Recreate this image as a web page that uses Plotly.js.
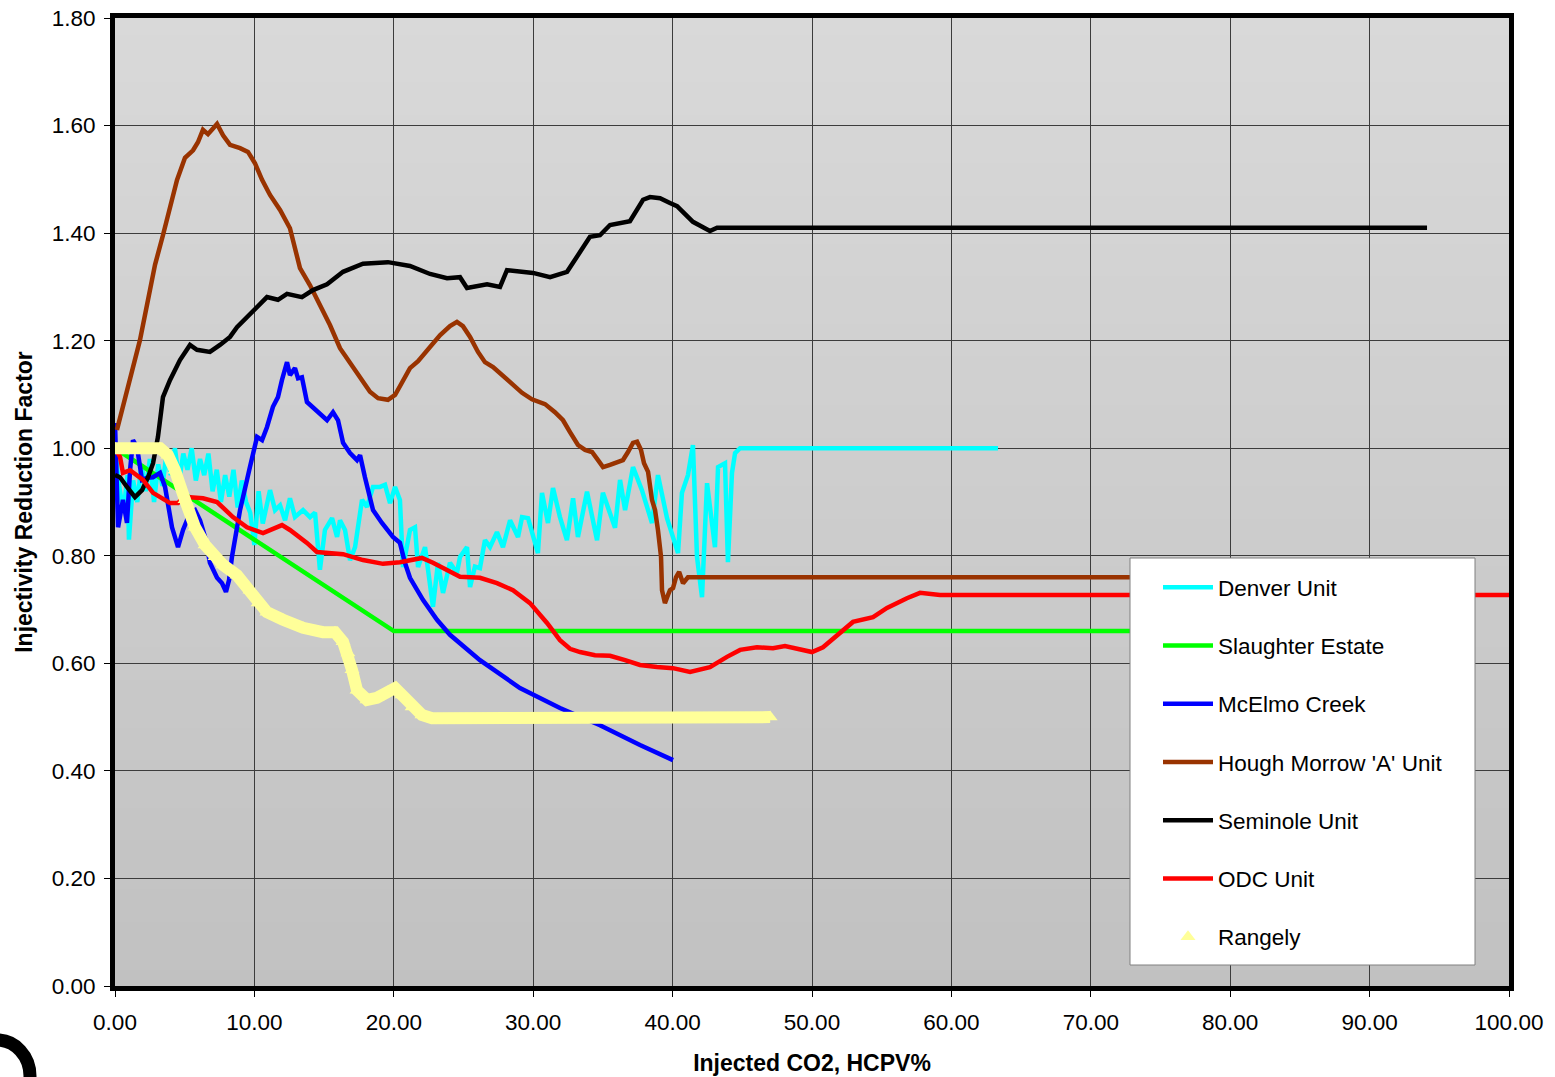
<!DOCTYPE html>
<html>
<head>
<meta charset="utf-8">
<script src="https://cdn.plot.ly/plotly-3.0.1.min.js"></script>
<style>
html,body{margin:0;padding:0;background:#ffffff;}
#chart{width:1555px;height:1077px;}
</style>
</head>
<body>
<div id="chart"></div>
<script>
// ---------- DATA ----------
const seriesNames = ["Denver Unit","Slaughter Estate","McElmo Creek","Hough Morrow 'A' Unit","Seminole Unit","ODC Unit","Rangely"];

const denverX = [0,0.3,0.6,0.9,1.0,1.3,1.6,1.9,2.2,2.5,2.8,3.1,3.4,3.7,4.0,4.3,4.6,4.9,5.2,5.5,5.8,6.1,6.4,6.7,7.0,7.3,7.6,7.9,8.2,8.5,8.8,9.1,9.4,9.7,10.0,10.3,10.6,10.9,
  11.12,11.48,11.84,12.2,12.55,12.91,13.49,13.99,14.35,14.7,15.06,15.57,15.93,16.14,16.5,16.86,17.22,17.72,18.08,18.51,19.01,19.37,19.73,20.09,20.44,20.66,21.16,21.52,21.74,22.24,22.81,23.17,23.53,24.03,24.53,
  24.75,25.25,25.47,25.82,26.18,26.54,26.9,27.4,27.83,28.34,28.91,29.2,29.63,30.34,30.63,31.06,31.42,31.92,32.42,32.86,33.21,33.86,34.58,35.0,35.87,36.23,36.59,37.16,37.8,38.52,38.95,39.6,40.39,40.67,41.1,41.46,41.75,42.11,42.47,43.04,43.26,43.76,43.97,44.26,44.48,44.84,63.34];
const denverY = [1.00,0.93,0.88,0.95,0.83,0.94,0.90,0.97,0.92,0.98,0.90,0.97,0.93,0.99,0.95,1.00,0.94,0.99,0.96,1.00,0.94,0.98,0.95,0.99,0.92,0.96,0.90,0.95,0.91,0.96,0.89,0.94,0.90,0.88,0.82,0.92,0.86,0.90,
  0.922,0.885,0.894,0.866,0.907,0.872,0.885,0.872,0.880,0.774,0.848,0.870,0.835,0.866,0.848,0.792,0.816,0.904,0.891,0.928,0.928,0.932,0.898,0.928,0.904,0.779,0.848,0.853,0.779,0.816,0.705,0.787,0.731,0.787,0.768,
  0.798,0.816,0.742,0.780,0.777,0.829,0.816,0.844,0.816,0.866,0.835,0.872,0.870,0.805,0.917,0.861,0.926,0.872,0.829,0.907,0.835,0.919,0.829,0.917,0.852,0.941,0.885,0.965,0.922,0.861,0.950,0.870,0.805,0.917,0.950,1.006,0.798,0.723,0.935,0.816,0.965,0.972,0.788,0.954,0.991,1.000,1.000];

const slaughterX = [0,20.0,75.0];
const slaughterY = [1.00,0.66,0.66];

const mcelmoX = [0,0.22,0.57,0.86,1.08,1.29,1.58,1.94,2.30,2.73,3.23,3.59,4.09,4.52,4.88,5.38,5.74,6.10,6.46,6.81,7.32,7.68,7.96,8.18,8.39,8.97,9.68,10.19,10.55,10.90,11.33,11.69,11.98,12.34,12.55,12.91,13.13,13.41,13.77,14.20,14.71,15.21,15.64,16.00,16.36,16.86,17.36,17.58,17.93,18.51,19.15,19.94,20.44,20.80,21.16,22.09,23.10,24.03,26.18,29.05,31.92,34.79,37.66,40.03];
const mcelmoY = [1.047,0.853,0.904,0.861,0.959,1.015,1.002,0.941,0.945,0.946,0.954,0.928,0.853,0.816,0.848,0.880,0.885,0.866,0.835,0.787,0.759,0.749,0.733,0.755,0.798,0.885,0.965,1.021,1.015,1.039,1.077,1.095,1.127,1.160,1.136,1.149,1.130,1.132,1.086,1.075,1.062,1.052,1.067,1.052,1.010,0.991,0.978,0.987,0.946,0.885,0.861,0.835,0.824,0.787,0.759,0.718,0.681,0.653,0.606,0.554,0.517,0.485,0.448,0.420];

const houghX = [0.14,0.72,1.22,1.79,2.37,2.87,3.44,3.95,4.45,5.02,5.60,5.95,6.31,6.67,7.03,7.32,7.75,8.25,8.97,9.54,10.04,10.55,11.12,11.84,12.55,12.91,13.27,13.99,14.71,15.42,16.14,16.86,17.58,18.29,18.87,19.58,20.09,20.59,21.16,21.74,22.45,23.31,24.03,24.53,24.96,25.47,26.04,26.54,27.12,27.76,28.48,29.20,29.91,30.85,31.56,32.14,32.64,33.21,33.72,34.22,34.65,35.01,35.51,36.01,36.44,36.80,37.16,37.45,37.73,37.95,38.24,38.52,38.74,38.95,39.17,39.24,39.45,39.67,39.81,40.03,40.24,40.47,40.75,41.10,80.0];
const houghY = [1.034,1.090,1.145,1.201,1.276,1.341,1.396,1.452,1.499,1.540,1.554,1.569,1.592,1.584,1.595,1.603,1.582,1.564,1.558,1.551,1.530,1.499,1.471,1.443,1.409,1.369,1.335,1.303,1.266,1.229,1.186,1.160,1.131,1.105,1.093,1.090,1.099,1.121,1.149,1.162,1.183,1.210,1.227,1.235,1.227,1.207,1.179,1.160,1.151,1.136,1.121,1.103,1.091,1.082,1.067,1.052,1.030,1.006,0.997,0.993,0.978,0.965,0.969,0.974,0.978,0.993,1.010,1.012,0.997,0.972,0.956,0.904,0.885,0.848,0.798,0.736,0.712,0.727,0.736,0.740,0.760,0.770,0.749,0.760,0.760];

const seminoleX = [0,0.36,0.86,1.43,1.94,2.37,2.73,3.08,3.44,3.95,4.66,5.38,5.88,6.81,7.53,8.25,8.75,9.68,10.90,11.69,12.34,13.41,14.20,15.21,16.36,17.79,19.58,21.16,22.60,23.82,24.75,25.25,26.69,27.62,28.12,29.99,31.21,32.43,33.14,34.07,34.79,35.51,36.94,37.88,38.38,39.10,39.81,40.32,41.46,42.18,42.68,43.19,94.12];
const seminoleY = [0.950,0.946,0.928,0.909,0.922,0.946,0.972,1.021,1.095,1.127,1.164,1.192,1.183,1.179,1.192,1.207,1.225,1.248,1.281,1.276,1.287,1.281,1.294,1.305,1.328,1.343,1.346,1.339,1.324,1.316,1.318,1.298,1.305,1.300,1.331,1.326,1.318,1.328,1.356,1.393,1.396,1.415,1.422,1.462,1.467,1.465,1.456,1.450,1.421,1.411,1.404,1.410,1.410];

const odcX = [0,0.36,0.57,1.08,2.01,2.73,3.95,4.52,4.81,5.38,6.31,7.32,8.46,9.47,10.62,11.33,11.98,12.55,13.77,14.49,16.36,17.79,19.23,20.44,22.02,22.81,24.75,26.18,27.40,28.55,29.77,30.99,31.92,32.64,33.36,34.43,35.51,36.59,37.66,38.88,40.03,41.25,42.68,43.90,44.84,46.05,47.20,48.06,48.92,50.00,50.79,51.79,52.94,54.38,55.38,56.81,57.75,59.18,100.0];
const odcY = [1.000,0.984,0.954,0.959,0.941,0.917,0.898,0.898,0.907,0.909,0.907,0.900,0.872,0.853,0.842,0.850,0.857,0.848,0.824,0.807,0.803,0.792,0.785,0.788,0.796,0.787,0.761,0.759,0.749,0.736,0.712,0.675,0.643,0.627,0.621,0.615,0.614,0.606,0.597,0.593,0.591,0.584,0.593,0.612,0.625,0.630,0.628,0.632,0.628,0.621,0.630,0.653,0.677,0.686,0.703,0.721,0.731,0.727,0.727];

const rangelyX = [0,3.23,3.80,4.30,5.02,5.74,6.46,7.17,7.75,8.75,9.68,10.26,10.90,12.05,13.49,14.92,15.78,16.36,16.71,17.00,17.36,18.08,18.79,19.58,20.09,20.59,21.31,22.02,22.74,47.0];
const rangelyY = [1.000,1.000,0.987,0.959,0.904,0.853,0.820,0.798,0.783,0.764,0.736,0.712,0.695,0.681,0.666,0.658,0.658,0.640,0.619,0.588,0.550,0.532,0.536,0.547,0.554,0.541,0.519,0.504,0.498,0.500];

const xTickVals = [0,10,20,30,40,50,60,70,80,90,100];
const yTickVals = [0,0.2,0.4,0.6,0.8,1.0,1.2,1.4,1.6,1.8];

// ---------- STYLE ----------
const colors = ["#00FFFF","#00FF00","#0000FF","#993300","#000000","#FF0000","#FFFF99"];
const FONT = "Liberation Sans, Arial, sans-serif";

function lineTrace(x, y, i) {
  return {x: x, y: y, type: "scatter", mode: "lines", name: seriesNames[i],
    legendgroup: "g" + i,
    line: {color: colors[i], width: 4.5}, hoverinfo: "skip"};
}

const traces = [
  lineTrace(denverX, denverY, 0),
  lineTrace(slaughterX, slaughterY, 1),
  lineTrace(mcelmoX, mcelmoY, 2),
  lineTrace(houghX, houghY, 3),
  lineTrace(seminoleX, seminoleY, 4),
  lineTrace(odcX, odcY, 5),
  {x: rangelyX, y: rangelyY, type: "scatter", mode: "lines", showlegend: false,
   legendgroup: "g6", line: {color: colors[6], width: 12}, hoverinfo: "skip"},
  {x: rangelyX, y: rangelyY, type: "scatter", mode: "markers", name: seriesNames[6],
   legendgroup: "g6",
   marker: {symbol: "triangle-up", size: 13, color: colors[6]}, hoverinfo: "skip"}
];

// background gradient as stacked rectangles
const shapes = [];
const N = 60;
for (let i = 0; i < N; i++) {
  const t = (i + 0.5) / N;
  const c = Math.round(193 + (217 - 193) * t);
  shapes.push({type: "rect", xref: "paper", yref: "paper", x0: 0, x1: 1,
    y0: i / N, y1: (i + 1) / N + 0.002, fillcolor: `rgb(${c},${c},${c})`,
    line: {width: 0}, layer: "below"});
}
// legend box
shapes.push({type: "rect", xref: "paper", yref: "paper",
  x0: (1130 - 115) / 1394, x1: (1475 - 115) / 1394,
  y0: (986 - 965) / 968, y1: (986 - 558) / 968,
  fillcolor: "#ffffff", line: {color: "#808080", width: 1}, layer: "above"});
// logo arc bottom-left
shapes.push({type: "circle", xref: "paper", yref: "paper",
  x0: (-36 - 115) / 1394, x1: (30 - 115) / 1394,
  y0: (986 - 1112) / 968, y1: (986 - 1040) / 968,
  line: {color: "#000000", width: 13}, fillcolor: "rgba(0,0,0,0)", layer: "above"});

const layout = {
  width: 1555, height: 1077,
  margin: {l: 115, r: 46, t: 18, b: 91, pad: 0},
  paper_bgcolor: "#ffffff",
  plot_bgcolor: "#cccccc",
  font: {family: FONT, size: 22, color: "#000000"},
  showlegend: true,
  legend: {x: (1158 - 115) / 1394, y: (986 - 566) / 968, xanchor: "left", yanchor: "top",
    bgcolor: "rgba(0,0,0,0)", borderwidth: 0, traceorder: "grouped", tracegroupgap: 26,
    itemwidth: 50, font: {family: FONT, size: 22.5, color: "#000000"}},
  xaxis: {range: [0, 100], tickvals: xTickVals, tickformat: ".2f",
    showgrid: true, gridcolor: "#3c3c3c", gridwidth: 1, zeroline: false,
    showline: true, linecolor: "#000000", linewidth: 5, mirror: true,
    ticks: "outside", ticklen: 6, tickcolor: "#000000", tickwidth: 1,
    ticklabelstandoff: 6,
    tickfont: {family: FONT, size: 22.5, color: "#000000"},
    title: {text: "<b>Injected CO2, HCPV%</b>", font: {family: FONT, size: 23, color: "#000000"}, standoff: 22}},
  yaxis: {range: [0, 1.8], tickvals: yTickVals, tickformat: ".2f",
    showgrid: true, gridcolor: "#3c3c3c", gridwidth: 1, zeroline: false,
    showline: true, linecolor: "#000000", linewidth: 5, mirror: true,
    ticks: "outside", ticklen: 6, tickcolor: "#000000", tickwidth: 1,
    ticklabelstandoff: 4,
    tickfont: {family: FONT, size: 22.5, color: "#000000"},
    title: {text: "<b>Injectivity Reduction Factor</b>", font: {family: FONT, size: 23, color: "#000000"}, standoff: 14}},
  shapes: shapes
};

Plotly.newPlot("chart", traces, layout, {staticPlot: true, displayModeBar: false});
</script>
</body>
</html>
